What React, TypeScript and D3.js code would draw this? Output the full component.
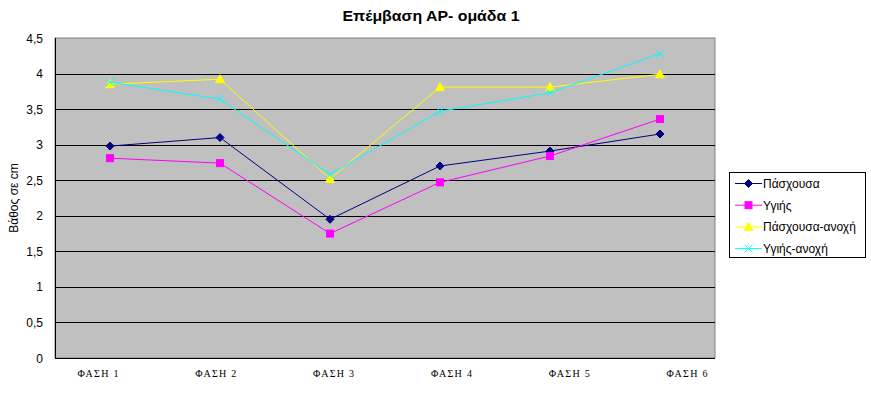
import React from 'react';
import * as d3 from 'd3';

// phases on the x axis
const phases = ['ΦΑΣΗ 1', 'ΦΑΣΗ 2', 'ΦΑΣΗ 3', 'ΦΑΣΗ 4', 'ΦΑΣΗ 5', 'ΦΑΣΗ 6'];

// series values (depth in cm)
const pasxousa = [2.98, 3.1, 1.95, 2.7, 2.91, 3.15];
const ygiis = [2.81, 2.74, 1.75, 2.47, 2.84, 3.36];
const pasxousaAnoxi = [3.85, 3.92, 2.52, 3.81, 3.81, 3.99];
const ygiisAnoxi = [3.88, 3.64, 2.58, 3.47, 3.73, 4.28];

const yTicks = [0, 0.5, 1, 1.5, 2, 2.5, 3, 3.5, 4, 4.5];

const series = [
    { name: 'Πάσχουσα', values: pasxousa, color: '#000080', marker: 'diamond' },
    { name: 'Υγιής', values: ygiis, color: '#ff00ff', marker: 'square' },
    { name: 'Πάσχουσα-ανοχή', values: pasxousaAnoxi, color: '#ffff00', marker: 'triangle' },
    { name: 'Υγιής-ανοχή', values: ygiisAnoxi, color: '#00ffff', marker: 'cross' },
];

const W = 871;
const H = 396;
const plot = { left: 55, right: 715, top: 38, bottom: 358 };

function Marker({ type, x, y, color }: { type: string; x: number; y: number; color: string }) {
    if (type === 'diamond') {
        return <path d={`M${x},${y - 4}L${x + 4},${y}L${x},${y + 4}L${x - 4},${y}Z`} fill={color} stroke={color} />;
    }
    if (type === 'square') {
        return <rect x={x - 3.5} y={y - 3.5} width={7} height={7} fill={color} stroke={color} />;
    }
    if (type === 'triangle') {
        return <path d={`M${x},${y - 4.5}L${x + 4.5},${y + 3.5}L${x - 4.5},${y + 3.5}Z`} fill={color} stroke={color} />;
    }
    return (
        <path d={`M${x - 4},${y - 4}L${x + 4},${y + 4}M${x - 4},${y + 4}L${x + 4},${y - 4}`} stroke={color} strokeWidth={1} />
    );
}

export default function App() {
    const x = d3.scaleBand<string>().domain(phases).range([plot.left, plot.right]);
    const y = d3.scaleLinear().domain([0, 4.5]).range([plot.bottom, plot.top]);
    const cx = (p: string) => (x(p) ?? 0) + x.bandwidth() / 2;
    // the category labels in the original sit a bit off the data columns
    const xLabel = d3.scalePoint<string>().domain(phases).range([98, 687]);

    const line = d3
        .line<number>()
        .x((_, i) => cx(phases[i]))
        .y((d) => y(d));

    const legendItems = series.map((s, i) => ({ ...s, y: 183.5 + i * 21.7 }));

    return (
        <svg
            width={W}
            height={H}
            style={{ position: 'absolute', left: 0, top: 0, background: '#fff' }}
            fontFamily="'Liberation Sans', Arial, sans-serif"
        >
            <text x={431} y={21} textAnchor="middle" fontSize={15} fontWeight="bold" textLength={177} lengthAdjust="spacingAndGlyphs">
                Επέμβαση ΑΡ- ομάδα 1
            </text>

            {/* plot area */}
            <rect
                x={plot.left}
                y={plot.top}
                width={plot.right - plot.left}
                height={plot.bottom - plot.top}
                fill="#c0c0c0"
                stroke="#808080"
            />
            {yTicks.slice(1, -1).map((t) => (
                <line key={t} x1={plot.left} x2={plot.right} y1={Math.round(y(t)) + 0.5} y2={Math.round(y(t)) + 0.5} stroke="#000" />
            ))}
            <line x1={plot.left + 0.5} x2={plot.left + 0.5} y1={plot.top} y2={plot.bottom} stroke="#000" />
            <line x1={plot.left} x2={plot.right} y1={plot.bottom + 0.5} y2={plot.bottom + 0.5} stroke="#000" />
            {yTicks.map((t) => (
                <text key={t} x={43} y={y(t) + 4.5} textAnchor="end" fontSize={12}>
                    {String(t).replace('.', ',')}
                </text>
            ))}
            {phases.map((p) => (
                <text
                    key={p}
                    x={xLabel(p)}
                    y={377}
                    textAnchor="middle"
                    fontSize={10}
                    textLength={41}
                    lengthAdjust="spacing"
                    fontFamily="'Liberation Serif', 'Times New Roman', serif"
                >
                    {p}
                </text>
            ))}

            <text
                transform={`translate(18, ${(plot.top + plot.bottom) / 2}) rotate(-90)`}
                textAnchor="middle"
                fontSize={12}
            >
                Βάθος σε cm
            </text>

            {/* series */}
            {series.map((s) => (
                <g key={s.name}>
                    <path d={line(s.values) ?? ''} fill="none" stroke={s.color} strokeWidth={1} />
                    {s.values.map((v, i) => (
                        <Marker key={i} type={s.marker} x={cx(phases[i])} y={y(v)} color={s.color} />
                    ))}
                </g>
            ))}

            {/* legend */}
            <rect x={729.5} y={172.5} width={136} height={85} fill="#fff" stroke="#000" />
            {legendItems.map((s) => (
                <g key={s.name}>
                    <line x1={735} x2={762} y1={s.y} y2={s.y} stroke={s.color} />
                    <Marker type={s.marker} x={748.5} y={s.y} color={s.color} />
                    <text x={763} y={s.y + 4.5} fontSize={12}>
                        {s.name}
                    </text>
                </g>
            ))}
        </svg>
    );
}
